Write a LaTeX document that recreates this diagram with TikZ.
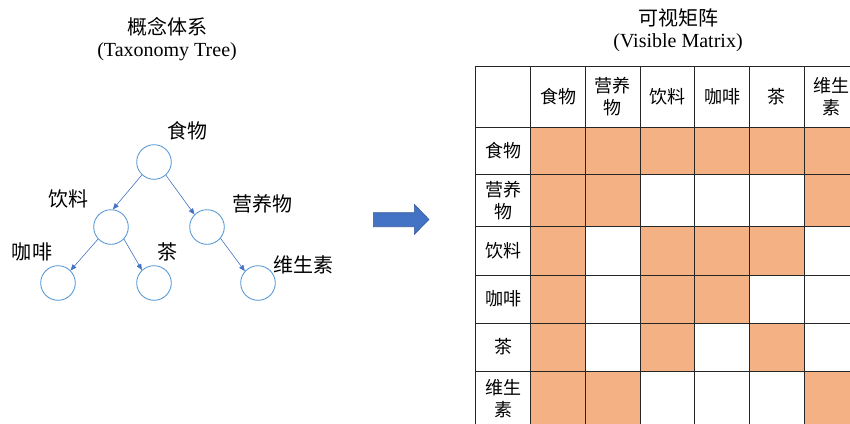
\documentclass[tikz,border=0pt]{standalone}
\usepackage{fontspec}
\setmainfont{Liberation Serif}
\newfontfamily\cjk{Noto Sans CJK SC}
\usetikzlibrary{arrows.meta}
\definecolor{treeblue}{HTML}{5B9BD5}
\definecolor{arrowblue}{HTML}{4472C4}
\definecolor{cellorange}{HTML}{F4B183}
\tikzset{
  tnode/.style={circle, draw=treeblue, line width=0.9pt, minimum size=34.6pt, inner sep=0pt},
  tlabel/.style={font=\cjk\fontsize{20}{24}\selectfont, inner sep=0pt},
  tedge/.style={draw=arrowblue, line width=0.6pt, -{Triangle[length=6pt,width=5pt]}},
  title/.style={font=\cjk\fontsize{20}{24}\selectfont, inner sep=0pt},
  subtitle/.style={font=\fontsize{20}{24}\selectfont, inner sep=0pt},
  cell/.style={font=\cjk\fontsize{18}{22}\selectfont, align=center, inner sep=0pt},
  gridline/.style={draw=black!85, line width=0.9pt}
}
\begin{document}
\begin{tikzpicture}[x=1pt,y=-1pt]
\useasboundingbox (0,0) rectangle (850,423);
\clip (0,0) rectangle (850,423);
% titles
\node[title] (t1) at (167,27) {概念体系};
\node[subtitle] (t1s) at (167,52) {(Taxonomy Tree)};
\node[title] (t2) at (678,18) {可视矩阵};
\node[subtitle] (t2s) at (678,43) {(Visible Matrix)};
% tree
\node[tnode] (food) at (154,162) {};
\node[tnode] (bev) at (111,227) {};
\node[tnode] (nut) at (207,227) {};
\node[tnode] (cof) at (58,283) {};
\node[tnode] (tea) at (154,283) {};
\node[tnode] (vit) at (258,283) {};
\node[tlabel] (lfood) at (187,131) {食物};
\node[tlabel] (lbev) at (68,199) {饮料};
\node[tlabel] (lnut) at (262,204) {营养物};
\node[tlabel] (lcof) at (32,252) {咖啡};
\node[tlabel] (ltea) at (167,252) {茶};
\node[tlabel] (lvit) at (303,265) {维生素};
\draw[tedge] (food.227) -- (bev.84);
\draw[tedge] (food.312) -- (nut.135);
\draw[tedge] (bev.223) -- (cof.45);
\draw[tedge] (bev.317) -- (tea.133);
\draw[tedge] (nut.320) -- (vit.138);
% big arrow
\filldraw[fill=arrowblue, draw=arrowblue!80!black, line width=0.6pt]
  (373.3,212.7) -- (414.3,212.7) -- (414.3,204.3) -- (429,219.5) -- (414.3,234.3) -- (414.3,226.7) -- (373.3,226.7) -- cycle;
% matrix
\def\XS{{475,530.7,585.3,640,694.7,749.3,804,858.7}}
\def\YS{{66.7,127,174,226.7,275,323.3,371,427}}
\foreach \c/\r in {1/1,2/1,3/1,4/1,5/1,6/1, 1/2,2/2,6/2, 1/3,3/3,4/3,5/3, 1/4,3/4,4/4, 1/5,3/5,5/5, 1/6,2/6,6/6} {
  \pgfmathsetmacro\xa{\XS[\c]}
  \pgfmathsetmacro\xb{\XS[\c+1]}
  \pgfmathsetmacro\ya{\YS[\r]}
  \pgfmathsetmacro\yb{\YS[\r+1]}
  \fill[cellorange] (\xa,\ya) rectangle (\xb,\yb);
}
\foreach \x in {475,530.7,585.3,640,694.7,749.3,804,858.7}
  \draw[gridline] (\x,66.7) -- (\x,430);
\foreach \y in {66.7,127,174,226.7,275,323.3,371,427}
  \draw[gridline] (475,\y) -- (862,\y);
\foreach \i/\t in {1/食物,2/营养\\物,3/饮料,4/咖啡,5/茶,6/维生\\素} {
  \pgfmathsetmacro\xa{\XS[\i]}
  \pgfmathsetmacro\xb{\XS[\i+1]}
  \pgfmathsetmacro\ya{\YS[\i]}
  \pgfmathsetmacro\yb{\YS[\i+1]}
  \pgfmathsetmacro\xc{(\xa+\xb)/2}
  \pgfmathsetmacro\yc{(\ya+\yb)/2}
  \node[cell] (h\i) at (\xc,97) {\t};
  \node[cell] (r\i) at (503,\yc) {\t};
}
\end{tikzpicture}
\end{document}
